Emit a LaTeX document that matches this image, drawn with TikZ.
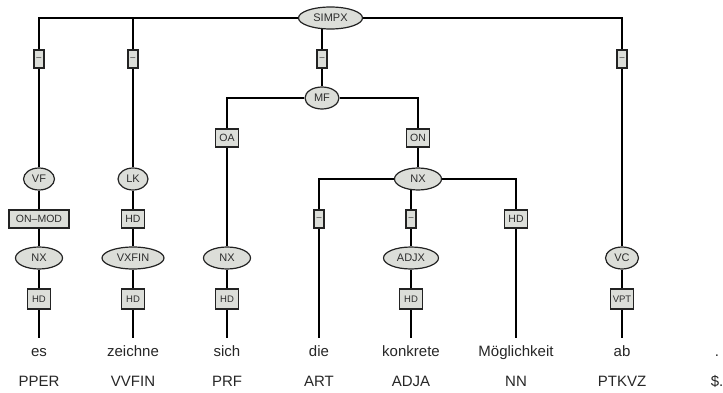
\documentclass[tikz,border=0pt]{standalone}
\usepackage{fontspec}
\setmainfont{Liberation Sans}
\usetikzlibrary{shapes.geometric,backgrounds}
\definecolor{boxfill}{RGB}{220,222,217}
\definecolor{boxline}{RGB}{35,35,35}
\definecolor{boxtext}{RGB}{45,45,45}
\tikzset{
 branch/.style={line width=1.2pt,draw=black},
 cat/.style={ellipse,draw=boxline,line width=1.2pt,fill=boxfill,minimum height=22pt,inner sep=0,text=boxtext,font=\fontsize{11}{12}\selectfont},
 func/.style={rectangle,draw=boxline,line width=1.4pt,fill=boxfill,minimum height=18pt,minimum width=23pt,inner sep=0,text=boxtext,font=\fontsize{10.5}{12}\selectfont},
 dashfunc/.style={func,minimum width=10pt,font=\fontsize{9}{10}\selectfont},
 lowfunc/.style={func,minimum height=20pt,font=\fontsize{9.5}{10}\selectfont},
 word/.style={anchor=north,inner xsep=0,inner ysep=7pt,outer sep=0,text height=11pt,text depth=3pt,text=black!85,font=\fontsize{15}{16}\selectfont},
 postag/.style={inner sep=0,text=black!85,font=\fontsize{15}{16}\selectfont}
}

\begin{document}
\begin{tikzpicture}[x=1pt,y=-1pt]
\path[use as bounding box] (0,0) rectangle (723,393);
% top level
\node[cat,minimum width=64pt] (simpx) at (330.5,18) {SIMPX};
\node[dashfunc] (sA) at (39,59) {–};
\node[dashfunc] (sB) at (133,59) {–};
\node[dashfunc] (sC) at (322,59) {–};
\node[dashfunc] (sD) at (622,59) {–};
% fields
\node[cat,minimum width=31pt] (vf) at (39,179) {VF};
\node[cat,minimum width=30pt] (lk) at (133,179) {LK};
\node[cat,minimum width=34pt] (mf) at (322,98) {MF};
\node[cat,minimum width=33pt] (vc) at (622,258) {VC};
\node[func] (fOA) at (227,138) {OA};
\node[func] (fON) at (418,138) {ON};
\node[func,minimum width=60pt] (fMOD) at (39,219) {ON–MOD};
\node[func] (fLK) at (133,219) {HD};
% phrases
\node[cat,minimum width=47pt] (nxes) at (39,258) {NX};
\node[cat,minimum width=62pt] (vxfin) at (133,258) {VXFIN};
\node[cat,minimum width=47pt] (nxsich) at (227,258) {NX};
\node[cat,minimum width=47pt] (nxon) at (418,179) {NX};
\node[dashfunc] (fART) at (319,219) {–};
\node[dashfunc] (fADJ) at (411,219) {–};
\node[func] (fNN) at (516,219) {HD};
\node[cat,minimum width=55pt] (adjx) at (411,258) {ADJX};
% heads
\node[lowfunc] (hA) at (39,299) {HD};
\node[lowfunc] (hB) at (133,299) {HD};
\node[lowfunc] (hC) at (227,299) {HD};
\node[lowfunc] (hD) at (411,299) {HD};
\node[lowfunc] (hE) at (622,299) {VPT};
% words and tags
\node[word] (w1) at (39,338) {es};
\node[word] (w2) at (133,338) {zeichne};
\node[word] (w3) at (227,338) {sich};
\node[word] (w4) at (319,338) {die};
\node[word] (w5) at (411,338) {konkrete};
\node[word] (w6) at (516,338) {Möglichkeit};
\node[word] (w7) at (622,338) {ab};
\node[word] (w8) at (717,338) {.};
\node[postag] (t1) at (39,381) {PPER};
\node[postag] (t2) at (133,381) {VVFIN};
\node[postag] (t3) at (227,381) {PRF};
\node[postag] (t4) at (319,381) {ART};
\node[postag] (t5) at (411,381) {ADJA};
\node[postag] (t6) at (516,381) {NN};
\node[postag] (t7) at (622,381) {PTKVZ};
\node[postag] (t8) at (717,381) {\$.};
% branches
\begin{scope}[on background layer]
\draw[branch] (simpx) -| (sA);
\draw[branch] (simpx) -| (sB);
\draw[branch] (simpx) -| (sC);
\draw[branch] (simpx) -| (sD);
\draw[branch] (sA) -- (vf);
\draw[branch] (sB) -- (lk);
\draw[branch] (sC) -- (mf);
\draw[branch] (sD) -- (vc);
\draw[branch] (vf) -- (fMOD);
\draw[branch] (fMOD) -- (nxes);
\draw[branch] (lk) -- (fLK);
\draw[branch] (fLK) -- (vxfin);
\draw[branch] (mf) -| (fOA);
\draw[branch] (mf) -| (fON);
\draw[branch] (fOA) -- (nxsich);
\draw[branch] (fON) -- (nxon);
\draw[branch] (nxon) -| (fART);
\draw[branch] (nxon) -| (fADJ);
\draw[branch] (nxon) -| (fNN);
\draw[branch] (fADJ) -- (adjx);
\draw[branch] (nxes) -- (hA);
\draw[branch] (vxfin) -- (hB);
\draw[branch] (nxsich) -- (hC);
\draw[branch] (adjx) -- (hD);
\draw[branch] (vc) -- (hE);
\draw[branch] (hA) -- (w1);
\draw[branch] (hB) -- (w2);
\draw[branch] (hC) -- (w3);
\draw[branch] (fART) -- (w4);
\draw[branch] (hD) -- (w5);
\draw[branch] (fNN) -- (w6);
\draw[branch] (hE) -- (w7);
\end{scope}
\end{tikzpicture}
\end{document}
